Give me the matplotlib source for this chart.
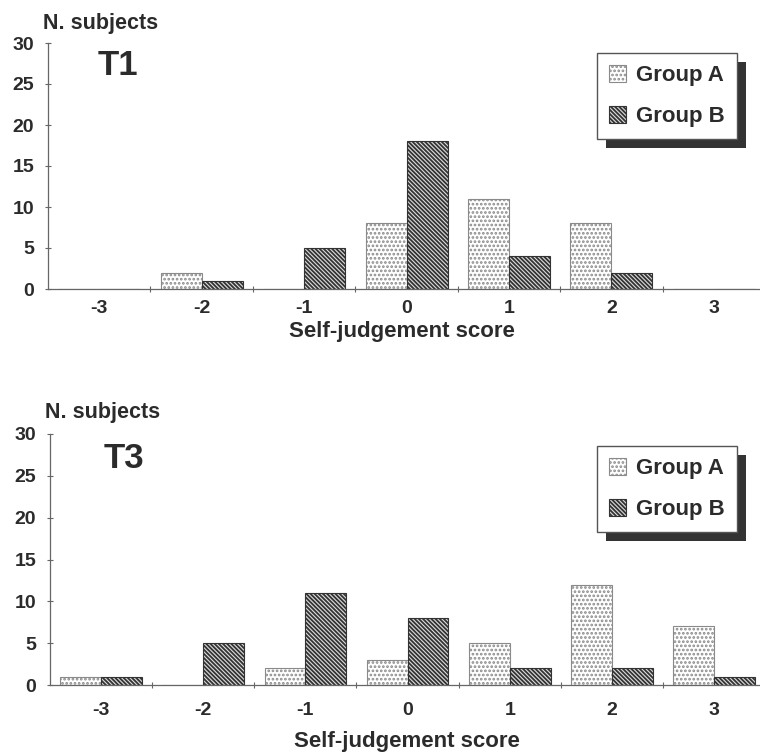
import matplotlib
matplotlib.use("Agg")
import matplotlib.pyplot as plt
import numpy as np
from matplotlib.patches import Rectangle

plt.rcParams['font.family'] = ['Liberation Sans', 'DejaVu Sans']
plt.rcParams['font.weight'] = 'bold'
plt.rcParams['axes.unicode_minus'] = False
plt.rcParams['hatch.linewidth'] = 1.3

# self-judgement scores and number of subjects per group
scores = [-3, -2, -1, 0, 1, 2, 3]
t1_group_a = [0, 2, 0, 8, 11, 8, 0]
t1_group_b = [0, 1, 5, 18, 4, 2, 0]
t3_group_a = [1, 0, 2, 3, 5, 12, 7]
t3_group_b = [1, 5, 11, 8, 2, 2, 1]
yticks = [0, 5, 10, 15, 20, 25, 30]

txt = '#2b2b2b'
W, H = 760, 753

fig = plt.figure(figsize=(7.6, 7.53), dpi=100)
ax1 = fig.add_axes([48/W, 1-289/H, 712/W, 246/H])
ax2 = fig.add_axes([50/W, 1-685/H, 710/W, 251/H])


def draw_panel(ax, a, b, title, xpad, lab_xy, ny, tpos, leg_top):
    x = np.array(scores)
    ax.bar(x - 0.2, a, width=0.4, color='white', edgecolor='#8a8a8a',
           hatch='....', linewidth=0.8, label='Group A')
    ax.bar(x + 0.2, b, width=0.4, color='#dcdcdc', edgecolor='#333333',
           hatch='\\\\\\\\\\\\\\\\', linewidth=0.8, label='Group B')
    ax.set_xlim(-3.5, 3.45)
    ax.set_ylim(0, 30)
    for s in ['top', 'right']:
        ax.spines[s].set_visible(False)
    for s in ['left', 'bottom']:
        ax.spines[s].set_color('#666666')
        ax.spines[s].set_linewidth(0.9)
    ax.set_yticks(yticks)
    ax.tick_params(axis='y', direction='inout', length=4, width=0.8,
                   color='#666666', labelsize=14, labelcolor=txt, pad=8)
    ax.set_xticks(scores)
    ax.set_xticks(np.arange(-2.5, 3.0, 1.0), minor=True)
    ax.tick_params(axis='x', which='major', length=0, labelsize=14,
                   labelcolor=txt, pad=xpad)
    ax.tick_params(axis='x', which='minor', direction='inout', length=4,
                   width=0.8, color='#666666')
    ax.set_xlabel('Self-judgement score', fontsize=16, color=txt,
                  fontweight='bold')
    ax.xaxis.set_label_coords(*lab_xy)
    ax.text(-0.007, ny, 'N. subjects', transform=ax.transAxes,
            fontsize=15.5, color=txt, ha='left', va='baseline')
    ax.text(tpos[0], tpos[1], title, transform=ax.transAxes, fontsize=25,
            color=txt, ha='left', va='baseline')
    leg = ax.legend(loc='upper left', bbox_to_anchor=(597/W, leg_top),
                    bbox_transform=fig.transFigure, fontsize=16,
                    frameon=True, fancybox=False, framealpha=1,
                    edgecolor='#555555', handlelength=0.75, handleheight=0.75,
                    handletextpad=0.45, labelspacing=0.9, borderpad=0.55,
                    borderaxespad=0)
    leg.get_frame().set_linewidth(1.0)
    for t in leg.get_texts():
        t.set_color(txt)
    return leg


leg1 = draw_panel(ax1, t1_group_a, t1_group_b, 'T1', 8,
                  (0.497, -0.132), 1.057, (0.069, 0.870), 1-53/H)
leg2 = draw_panel(ax2, t3_group_a, t3_group_b, 'T3', 12,
                  (0.503, -0.185), 1.064, (0.075, 0.865), 1-446/H)

# dark drop shadow behind each legend box
fig.canvas.draw()
for ax, leg in [(ax1, leg1), (ax2, leg2)]:
    bb = leg.get_window_extent()
    inv = ax.transAxes.inverted()
    (x0, y0), (x1, y1) = inv.transform([(bb.x0 + 9, bb.y0 - 9), (bb.x1 + 9, bb.y1 - 9)])
    ax.add_patch(Rectangle((x0, y0), x1 - x0, y1 - y0, transform=ax.transAxes,
                           facecolor='#333333', edgecolor='none', zorder=4,
                           clip_on=False))

fig.savefig('out.png', dpi=100, facecolor='white')
